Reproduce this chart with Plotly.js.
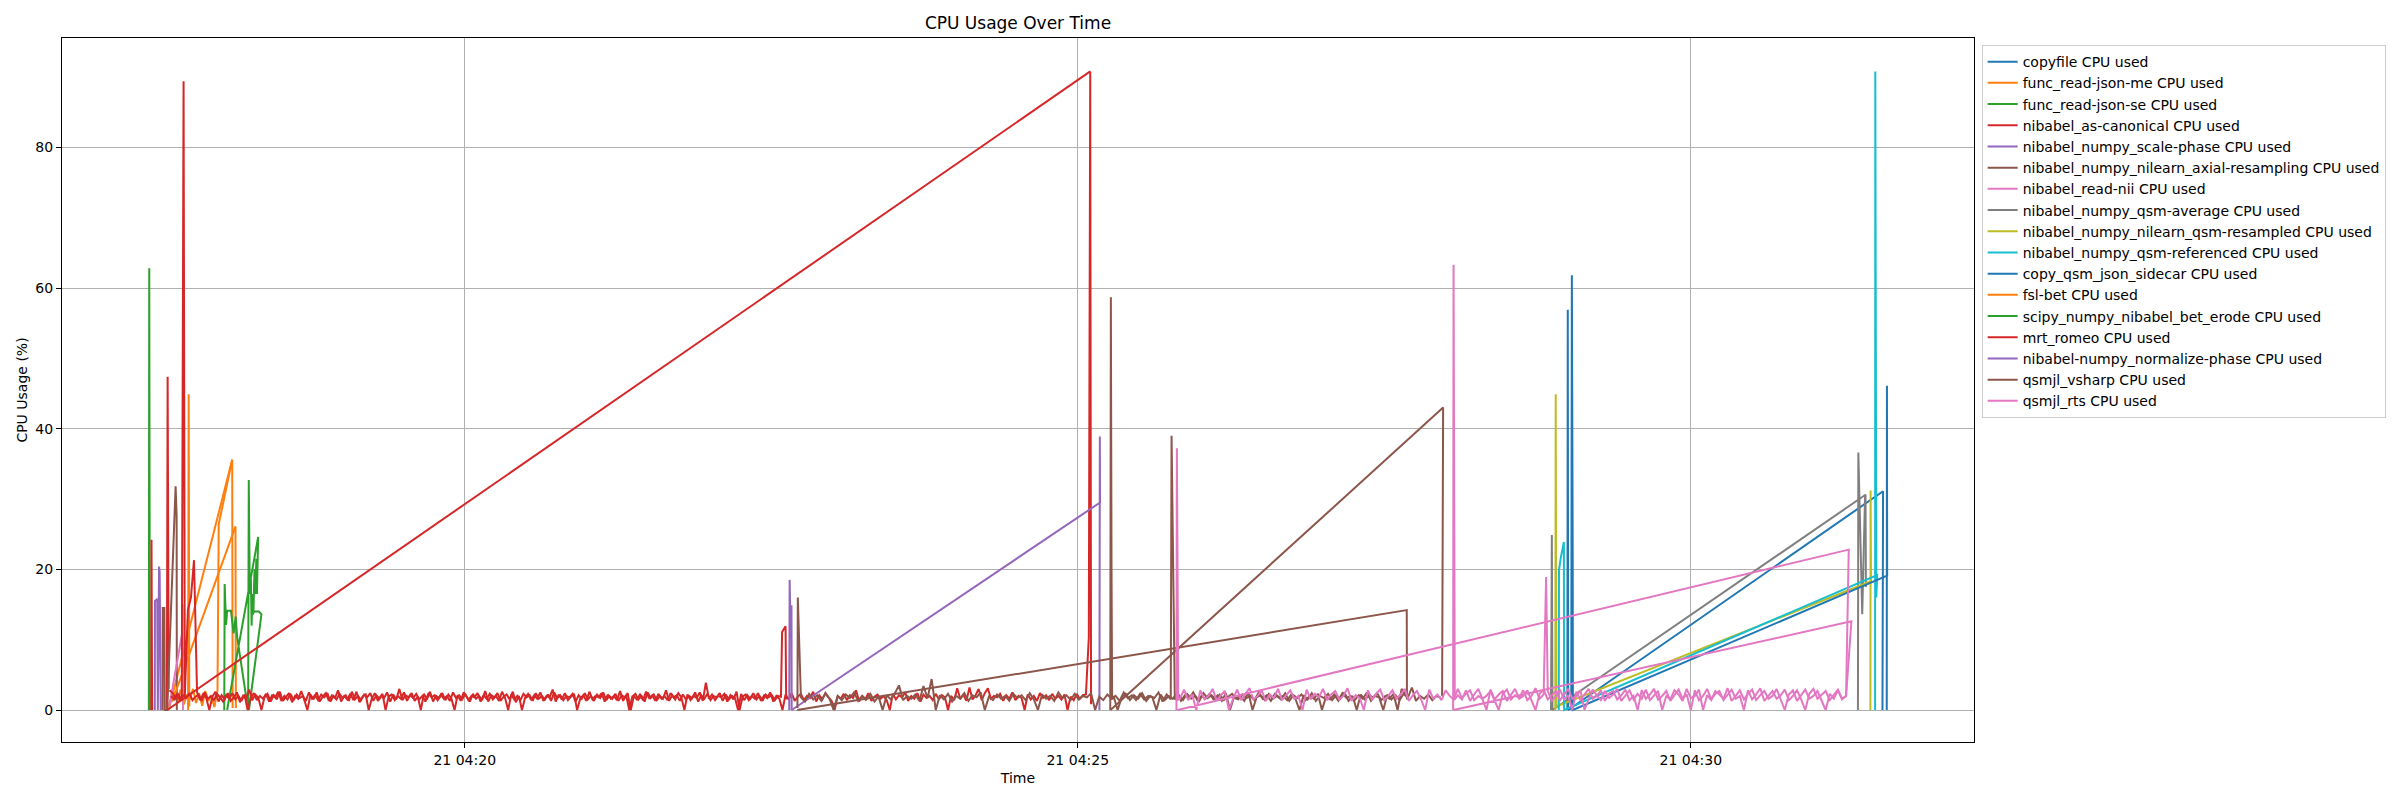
<!DOCTYPE html>
<html>
<head>
<meta charset="utf-8">
<script src="https://cdn.plot.ly/plotly-3.0.1.min.js"></script>
<style>html,body{margin:0;padding:0;background:#fff;}</style>
</head>
<body>
<div id="chart" style="width:2400px;height:800px;"></div>
<script>
// ---- time base: all times are seconds relative to 21 04:20:00 ----
const BASE = Date.UTC(2024, 4, 21, 4, 20, 0);
const X_RANGE_S = [-197.1, 738.6];
const Y_RANGE = [-4.55, 95.55];
const Y_TICKS = [0, 20, 40, 60, 80];

const SERIES_NAMES = [
  "copyfile CPU used", "func_read-json-me CPU used", "func_read-json-se CPU used",
  "nibabel_as-canonical CPU used", "nibabel_numpy_scale-phase CPU used",
  "nibabel_numpy_nilearn_axial-resampling CPU used", "nibabel_read-nii CPU used",
  "nibabel_numpy_qsm-average CPU used", "nibabel_numpy_nilearn_qsm-resampled CPU used",
  "nibabel_numpy_qsm-referenced CPU used", "copy_qsm_json_sidecar CPU used",
  "fsl-bet CPU used", "scipy_numpy_nibabel_bet_erode CPU used", "mrt_romeo CPU used",
  "nibabel-numpy_normalize-phase CPU used", "qsmjl_vsharp CPU used", "qsmjl_rts CPU used"
];
const COLORS = ['#1f77b4','#ff7f0e','#2ca02c','#d62728','#9467bd','#8c564b','#e377c2',
                '#7f7f7f','#bcbd22','#17becf','#1f77b4','#ff7f0e','#2ca02c','#d62728',
                '#9467bd','#8c564b','#e377c2'];

// ---- copyfile ----
const copyfile_t = [539.6, 539.8, 540.0, 694.1, 693.8];
const copyfile_v = [0, 56.9, 0, 31.1, 0];

// ---- func_read-json-me ----
const jsonme_noise_t0 = -145.0, jsonme_noise_step = 1.5;
const jsonme_noise = [0.5,1.8,2.6,1.2,2.9,0.8,2.2,1.5,3.0,1.0,2.4,0.6,2.7,1.3,2.0,0.4,2.8];
const jsonme_tail_t = [-120.4, -113.8, -113.6];
const jsonme_tail_v = [26.4, 35.6, 0.3];
const jsonme_diag_t = [-144.9, -113.8];
const jsonme_diag_v = [0, 35.6];

// ---- func_read-json-se ----
const jsonse_t = [-154.6, -154.4, -154.1];
const jsonse_v = [0, 62.8, 0];

// ---- nibabel_as-canonical ----
const ascan_a_t = [-153.4, -153.3, -153.0];
const ascan_a_v = [0, 24.2, 0];
const ascan_b_t = [-145.8, -145.4, -144.9];
const ascan_b_v = [0, 47.4, 3.0];

// ---- nibabel_numpy_scale-phase ----
const scale_t = [-151.7, -151.6, -150.5, -150.2, -149.6, -149.3, -148.8];
const scale_v = [0, 15.5, 15.8, 0, 20.4, 19.6, 0];

// ---- nibabel_numpy_nilearn_axial-resampling ----
const axial_t = [-147.9, -147.8, -147.0, -146.8, -145.6, -141.5, -141.0, -140.9];
const axial_v = [0, 14.5, 14.5, 0, 0, 31.8, 27.6, 0];

// ---- nibabel_read-nii ----
const readnii_t = [-144.6, -138.3, -138.1, -137.9];
const readnii_v = [0.5, 10.9, 15.0, 0];

// ---- nibabel_numpy_qsm-average ----
const qavg_a_t = [531.6, 532.0, 532.3, 685.5, 685.7];
const qavg_a_v = [0, 24.9, 0, 30.6, 17.5];
const qavg_b_t = [681.8, 682.0, 683.9, 685.3];
const qavg_b_v = [0, 36.6, 13.6, 30.6];

// ---- nibabel_numpy_nilearn_qsm-resampled ----
const qres_t = [533.7, 533.9, 534.2, 688.2, 688.0, 687.9];
const qres_v = [0, 44.9, 0.5, 18.3, 31.2, 0];

// ---- nibabel_numpy_qsm-referenced ----
const qref_t = [535.4, 535.5, 536.3, 537.9, 538.0, 691.2, 690.8, 690.3, 690.2];
const qref_v = [0, 19.9, 21.5, 23.9, 0, 19.2, 16.0, 90.8, 0];

// ---- copy_qsm_json_sidecar ----
const sidecar_t = [541.5, 541.8, 542.2, 542.3, 696.1, 696.0, 695.9];
const sidecar_v = [0, 61.8, 23.0, 0, 19.1, 46.1, 0];

// ---- fsl-bet ----
const bet_a_t = [-135.4, -135.1, -134.8];
const bet_a_v = [0, 44.9, 0.5];
const bet_b_t = [-143.2, -112.2, -112.0];
const bet_b_v = [1.2, 26.1, 0.3];

// ---- scipy_numpy_nibabel_bet_erode ----
const erode_a_t = [-117.7,-117.5,-116.8,-116.3,-114.4,-113.1,-112.1,-111.4,-106.0,-105.7,-105.2,
                   -104.7,-104.3,-103.9,-103.4,-102.9,-102.5,-102.0,-101.7,-101.1,-116.3];
const erode_a_v = [0,17.9,12.1,14.1,14.1,10.9,13.3,10.4,0,32.7,16.5,19.0,12.0,16.5,14.0,20.0,
                   16.5,21.5,16.5,24.6,0];
const erode_b_t = [-104.0, -103.0, -100.7, -99.5, -105.6];
const erode_b_v = [13.5, 14.0, 14.0, 13.6, 0];

// ---- mrt_romeo (run 1) ----
const romeo_t0 = -144.5, romeo_step = 1.5;
const romeo_noise = [
 2.8,2.4,1.6,2.2,1.3,2.0,14.2,16.0,21.3,2.5,
 1.4,2.3,1.7,0.0,1.9,2.6,1.2,2.1,1.5,2.4,
 1.3,1.8,2.5,1.1,2.0,1.6,2.9,1.4,2.2,1.7,
 0.0,1.8,2.3,1.2,2.1,1.5,2.6,1.3,1.9,2.4,
 1.1,2.0,1.6,2.7,1.4,0.0,2.2,1.5,2.5,1.2,
 1.9,2.4,1.3,2.1,1.7,2.8,1.2,2.0,1.5,2.3,
 1.4,2.6,1.1,1.9,2.2,0.0,1.6,2.4,1.3,2.0,
 1.7,2.5,1.2,2.2,1.5,3.0,1.4,2.1,1.8,2.4,
 1.3,1.9,0.0,2.3,1.5,2.6,1.2,2.0,1.7,2.4,
 1.4,2.2,1.6,0.0,2.1,1.3,2.5,1.8,1.2,2.3,
 1.6,2.0,1.4,2.7,1.2,2.1,1.8,2.4,1.3,1.9,
 2.2,1.5,2.6,1.1,2.0,0.0,1.7,2.3,1.4,2.1,
 1.6,2.5,1.3,2.0,1.8,2.9,1.2,2.2,1.5,2.4,
 1.4,1.9,2.3,0.0,1.6,2.1,1.3,2.6,1.5,2.0,
 1.8,2.4,1.2,2.2,1.6,2.0,1.4,2.7,1.3,2.1,
 0.0,1.9,2.3,1.5,2.0,1.2,2.5,1.7,2.2,1.4,
 2.0,1.6,2.8,1.3,2.1,1.5,2.4,1.8,0.0,2.2,
 1.4,2.0,1.7,2.5,1.3,3.9,1.6,2.2,1.4,2.0,
 1.8,2.3,1.2,2.1,1.5,2.6,0.0,1.9,2.2,1.4,
 2.0,1.6,2.4,1.3,2.1,1.7,2.5,1.2,2.0,1.6,
 0.0,2.2,1.5,2.4,1.3,1.9,2.3,1.4,2.0,1.7,
 2.6,1.2,2.1,1.5,2.4,1.8,1.3,0.0,2.0,1.6,
 2.3,1.4,2.1,1.7,2.8,1.2,2.0,1.5,2.4,1.3,
 1.9,2.2,1.6,2.0,1.4,0.0,2.3,1.5,2.1,1.8,
 2.5,1.3,2.0,1.6,2.4,1.2,2.2,1.7,2.0,1.4,
 2.3,1.5,2.1,1.8,0.0,2.0,1.4,3.1,1.6,2.2,
 1.3,3.2,1.5,2.1,3.0,1.4,2.4,3.1,1.6,2.0,
 1.8,2.3,1.3,2.1,1.6,2.5,1.4,2.0,1.7,0.0,
 2.2,1.5,2.0,1.3,2.4,1.7,2.1,1.4,2.3,1.6,
 2.0,1.5,2.2,0.0,1.9,1.4,2.3,1.6,2.1,2.2
];
const romeo_spike_t = [-137.6];
const romeo_spike_v = [89.4];
const romeo_end_t = [305.4, 306.1, 306.5];
const romeo_end_v = [10.3, 90.8, 0.8];
const romeo_diag_t = [-145.6, 306.1];
const romeo_diag_v = [0, 90.8];

// ---- mrt_romeo (run 2) ----
const romeo2_t0 = -143.75, romeo2_step = 1.5;
const romeo2_noise = [
 2.0,1.5,2.3,1.3,2.1,1.7,2.4,1.4,1.9,2.2,
 1.3,2.5,1.6,2.0,1.4,2.3,1.8,1.2,2.1,1.6,
 2.4,1.5,2.0,1.3,2.2,0.0,1.7,2.4,1.4,2.0,
 1.6,2.3,1.2,2.1,1.8,2.6,1.3,2.0,1.5,2.3,
 1.4,2.2,1.7,2.0,1.3,2.5,1.6,2.1,1.4,2.2,
 1.8,2.4,1.2,2.0,1.5,2.3,1.7,2.1,1.3,2.6,
 1.5,2.0,1.4,2.2,1.8,2.4,1.3,2.1,1.6,2.3,
 0.0,1.9,2.2,1.4,2.0,1.6,2.5,1.3,2.1,1.7,
 2.3,1.5,2.0,1.2,2.4,1.8,2.1,1.4,2.2,1.6,
 2.0,1.3,2.5,1.7,2.1,1.5,2.3,1.4,2.0,1.8,
 2.4,1.2,2.1,1.6,2.3,1.5,2.0,1.3,2.6,1.7,
 0.0,2.2,1.5,2.0,1.4,2.3,1.8,2.1,1.3,2.4,
 1.6,2.0,1.5,2.2,1.3,2.5,1.7,2.1,1.4,2.0,
 1.8,2.3,1.2,2.1,1.6,2.4,1.5,2.0,1.3,2.2,
 1.7,2.5,1.4,2.0,1.6,2.3,1.3,2.1,1.8,2.4,
 0.0,2.0,1.5,2.2,1.4,2.6,1.7,2.1,1.3,2.3,
 1.6,2.0,1.4,2.4,1.8,2.1,1.3,2.2,1.5,2.0,
 1.7,2.5,1.2,2.1,1.6,2.3,1.4,2.0,1.8,2.4,
 1.3,2.2,1.5,2.0,1.7,0.0,2.3,1.4,2.1,1.6,
 2.4,1.5,2.0,1.3,2.2,1.8,2.1,1.4,2.0,1.9
];
const romeo2_end_t = [155.3, 157.0, 157.3];
const romeo2_end_v = [11.1, 11.9, 1.5];

// ---- nibabel-numpy_normalize-phase ----
const normph_t = [158.8, 159.0, 159.5, 159.9, 160.0, 310.9, 310.8, 310.6];
const normph_v = [0, 18.5, 10.2, 14.9, 0, 29.5, 38.9, 0];

// ---- qsmjl_vsharp ----
const vsharp_a_pre_t = [162.8, 163.0];
const vsharp_a_pre_v = [0.3, 16.0];
const vsharp_a_t0 = 164.5, vsharp_a_step = 2;
const vsharp_a_noise = [
 1.8,1.2,2.3,1.5,2.1,1.3,2.4,1.6,0.0,2.0,
 1.4,2.2,1.7,2.5,1.3,2.0,1.5,2.3,1.2,1.9,
 0.0,2.1,1.5,2.4,3.5,1.4,2.0,1.6,2.2,1.3,
 3.4,1.7,4.4,0.0,2.1,1.5,2.3,1.2,2.0,1.6,
 2.4,1.3,2.1,1.8,2.5,0.0,1.9,1.4,2.2,1.6,
 2.0,1.3,2.3,1.7,2.1,1.4,2.4,1.5,0.0,2.2,
 1.6,2.0,1.3,2.5,1.7,2.1,1.4,2.3,1.5,2.0,
 1.8,2.4,0.0,1.9,1.4,2.2,1.6,2.0,1.3,2.5,
 1.7,2.1,1.4,2.3,1.5,2.0,1.8,0.0,2.2,1.4,
 2.0,1.6,2.4,1.3,2.1,1.7,2.5,1.4,2.0,1.6,
 2.3,1.5,2.1,1.3,2.4,0.0,1.9,1.5,2.2,1.7,
 2.0,1.4,2.5,1.6,2.1,1.3,2.3,1.8,2.0,1.4,
 2.2,1.6,0.0,2.1,1.5,2.4,1.3,2.0,1.7,2.3,
 1.4,2.1,1.6,2.5,1.3,2.0,0.0,2.2,1.5,2.1,
 1.8,2.4,1.4,2.0,1.6,2.3,0.0,3.0,2.1
];
const vsharp_a_diag_t = [162.7, 461.0, 461.1];
const vsharp_a_diag_v = [0, 14.2, 1.5];
const vsharp_b_pre_t = [315.9, 316.2, 316.5, 316.8];
const vsharp_b_pre_v = [0, 58.7, 21.0, 1.5];
const vsharp_b_t0 = 317.5, vsharp_b_step = 2;
const vsharp_b_noise = [
 2.0,0.0,1.8,2.3,1.4,2.1,1.6,2.4,1.3,2.0,
 1.7,2.5,1.2,2.2,1.5,1.5,2.1,1.4,2.3,1.6,
 2.0,1.3,2.4,1.7,2.1,1.5,2.2,1.4,1.9,2.3,
 1.6,2.0,1.3,2.5,0.0,1.8,2.1,1.4,2.3,1.6,
 2.0,1.5,2.4,1.3,2.1,1.7,2.2,1.4,2.0,1.6,
 2.3,0.0,1.9,1.5,2.2,1.3,2.4,1.7,2.0,1.4,
 2.1,1.6,2.5,1.3,2.0,1.8,0.0,2.2,1.5,2.1,
 1.4,2.3,1.7,3.2,1.3,2.0,1.6,2.2,1.4,2.0,1.8
];
const vsharp_b_spike_t = [345.9];
const vsharp_b_spike_v = [39.0];
const vsharp_b_diag_t = [316.0, 478.8, 478.3];
const vsharp_b_diag_v = [0, 43.0, 2.0];

// ---- qsmjl_rts ----
const rts_a_pre_t = [348.3, 348.5, 349.2];
const rts_a_pre_v = [0, 37.2, 1.5];
const rts_a_t0 = 350, rts_a_step = 2;
const rts_a_noise = [
 1.6,2.9,1.4,2.2,0.0,2.8,1.5,2.0,3.0,1.3,
 2.1,2.7,0.0,1.6,2.9,1.4,2.3,3.1,1.5,2.0,
 2.8,1.3,2.2,1.7,3.0,1.4,2.1,2.8,1.6,2.0,
 0.0,2.9,1.5,2.3,1.8,3.0,1.4,2.2,2.7,1.5,
 2.0,3.1,1.3,2.1,1.7,0.0,2.8,1.5,2.3,2.9,
 1.4,2.0,2.8,1.6,2.2,3.0,1.3,2.1,2.7,1.5,
 0.0,2.9,1.6,2.2,1.4,2.8,2.0,1.5,3.0,1.7,
 2.3,2.8,1.4,2.0,1.6,0.0,2.9,1.5,2.2,2.7,
 1.3,2.1,3.0,1.6,2.0,2.8,1.4,0.0,2.3,2.9,
 1.5,2.1,2.7,1.4,2.2,3.0,1.6,2.0,2.8,0.0,
 1.5,2.9,2.1,1.4,2.7,1.7,2.2,3.0,1.3,2.0,
 2.8,1.5,2.3,1.6,2.9,1.4,2.1,2.7,0.0,2.0,
 1.5,2.8,2.2,1.3,3.0,1.7,2.0,2.9,0.0,2.1,
 1.4,2.7,2.2,1.6,3.1,1.3,2.0,2.8,1.5,2.3,
 2.9,1.4,2.1,2.7,1.6,2.0,3.0,1.5,0.0,2.2,
 2.8,1.3,2.1,2.9,1.6,2.0,2.7,1.4,0.0,2.3,
 1.6,2.8,1.5,2.0
];
const rts_a_end_t = [677.3, 348.8];
const rts_a_end_v = [22.8, 0];
const rts_b_pre_t = [483.7, 483.9, 484.2, 484.5];
const rts_b_pre_v = [0, 63.3, 33.0, 1.5];
const rts_b_t0 = 486, rts_b_step = 2;
const rts_b_noise = [
 2.1,1.5,2.8,1.3,2.2,3.0,1.6,2.0,2.7,1.4,
 0.0,2.3,2.9,1.5,2.1,1.7,2.8,1.4,2.0,3.1,
 1.6,2.2,2.7,1.3,2.0,2.9,1.5,2.1,0.0,2.6,
 1.4,2.2,3.0,1.6,2.0,2.8,1.3,2.3,2.7,1.5,
 2.1,2.9,1.4,2.0,0.0,2.8,1.6,2.2,3.0,1.5,
 2.0,2.7,1.3,2.1,2.9,1.6,2.2,0.0,2.8,1.4,
 2.0,3.0,1.5,2.3,2.7,1.4,2.1,2.9,1.6,2.0,
 0.0,2.8,1.5,2.2,3.1,1.3,2.0,2.7,1.6,2.1,
 2.9,1.4,2.0,2.8,1.5,0.0,2.3,3.0,1.6,2.1,
 2.7,1.4,2.2,2.9,1.6,2.0
];
const rts_b_spike_t = [529.2];
const rts_b_spike_v = [18.9];
const rts_b_end_t = [678.6, 483.9];
const rts_b_end_v = [12.6, 0];

// ---- helpers: turn the arrays into line segments ----
function pts(ts, vs) { return ts.map((t, i) => [t, vs[i]]); }
function sampled(t0, step, vals) { return vals.map((v, i) => [t0 + i * step, v]); }
function byTime(p) { return p.slice().sort((a, b) => a[0] - b[0]); }
function makeTrace(k, segments) {
  const x = [], y = [];
  segments.forEach((s, j) => {
    if (j > 0) { x.push(null); y.push(null); }
    s.forEach(([t, v]) => { x.push(BASE + t * 1000); y.push(v); });
  });
  return { type: 'scatter', mode: 'lines', name: SERIES_NAMES[k], x: x, y: y,
           line: { color: COLORS[k], width: 2 }, hoverinfo: 'skip' };
}

const segs = [
  [pts(copyfile_t, copyfile_v)],
  [sampled(jsonme_noise_t0, jsonme_noise_step, jsonme_noise).concat(pts(jsonme_tail_t, jsonme_tail_v)),
   pts(jsonme_diag_t, jsonme_diag_v)],
  [pts(jsonse_t, jsonse_v)],
  [pts(ascan_a_t, ascan_a_v), pts(ascan_b_t, ascan_b_v)],
  [pts(scale_t, scale_v)],
  [pts(axial_t, axial_v)],
  [pts(readnii_t, readnii_v)],
  [pts(qavg_a_t, qavg_a_v), pts(qavg_b_t, qavg_b_v)],
  [pts(qres_t, qres_v)],
  [pts(qref_t, qref_v)],
  [pts(sidecar_t, sidecar_v)],
  [pts(bet_a_t, bet_a_v), pts(bet_b_t, bet_b_v)],
  [pts(erode_a_t, erode_a_v), pts(erode_b_t, erode_b_v)],
  [byTime(sampled(romeo_t0, romeo_step, romeo_noise).concat(pts(romeo_spike_t, romeo_spike_v)))
     .concat(pts(romeo_end_t, romeo_end_v)),
   pts(romeo_diag_t, romeo_diag_v),
   sampled(romeo2_t0, romeo2_step, romeo2_noise).concat(pts(romeo2_end_t, romeo2_end_v))],
  [pts(normph_t, normph_v)],
  [pts(vsharp_a_pre_t, vsharp_a_pre_v).concat(sampled(vsharp_a_t0, vsharp_a_step, vsharp_a_noise)),
   pts(vsharp_a_diag_t, vsharp_a_diag_v),
   pts(vsharp_b_pre_t, vsharp_b_pre_v).concat(
     byTime(sampled(vsharp_b_t0, vsharp_b_step, vsharp_b_noise).concat(pts(vsharp_b_spike_t, vsharp_b_spike_v)))),
   pts(vsharp_b_diag_t, vsharp_b_diag_v)],
  [pts(rts_a_pre_t, rts_a_pre_v).concat(sampled(rts_a_t0, rts_a_step, rts_a_noise)).concat(pts(rts_a_end_t, rts_a_end_v)),
   pts(rts_b_pre_t, rts_b_pre_v).concat(
     byTime(sampled(rts_b_t0, rts_b_step, rts_b_noise).concat(pts(rts_b_spike_t, rts_b_spike_v))))
     .concat(pts(rts_b_end_t, rts_b_end_v))]
];

const data = segs.map((s, k) => makeTrace(k, s));

const axisCommon = {
  showgrid: true, gridcolor: '#b0b0b0', gridwidth: 1,
  showline: true, linecolor: '#000', linewidth: 1, mirror: true,
  ticks: 'outside', ticklen: 5, tickwidth: 1, tickcolor: '#000',
  zeroline: false, tickfont: { size: 14, color: '#000' }
};

const layout = {
  width: 2400, height: 800,
  margin: { l: 62, r: 426, t: 38, b: 58 },
  paper_bgcolor: '#fff', plot_bgcolor: '#fff',
  font: { family: 'DejaVu Sans', size: 14, color: '#000' },
  title: { text: 'CPU Usage Over Time', font: { size: 17, color: '#000' },
           x: 1018 / 2400, xanchor: 'center', y: 1 - 23 / 800, yanchor: 'middle' },
  xaxis: Object.assign({}, axisCommon, {
    type: 'date',
    range: [BASE + X_RANGE_S[0] * 1000, BASE + X_RANGE_S[1] * 1000],
    tick0: BASE, dtick: 300000, tickformat: '%d %H:%M',
    title: { text: 'Time', font: { size: 14 }, standoff: 6 }
  }),
  yaxis: Object.assign({}, axisCommon, {
    range: Y_RANGE, tickmode: 'array', tickvals: Y_TICKS,
    title: { text: 'CPU Usage (%)', font: { size: 14 }, standoff: 4 }
  }),
  showlegend: true,
  legend: { x: 1.004, xanchor: 'left', y: 0.99, yanchor: 'top',
            bordercolor: '#cccccc', borderwidth: 1, bgcolor: '#fff',
            font: { size: 14, color: '#000' }, traceorder: 'normal', itemwidth: 30 }
};

Plotly.newPlot('chart', data, layout, { displayModeBar: false, staticPlot: true });
</script>
</body>
</html>
